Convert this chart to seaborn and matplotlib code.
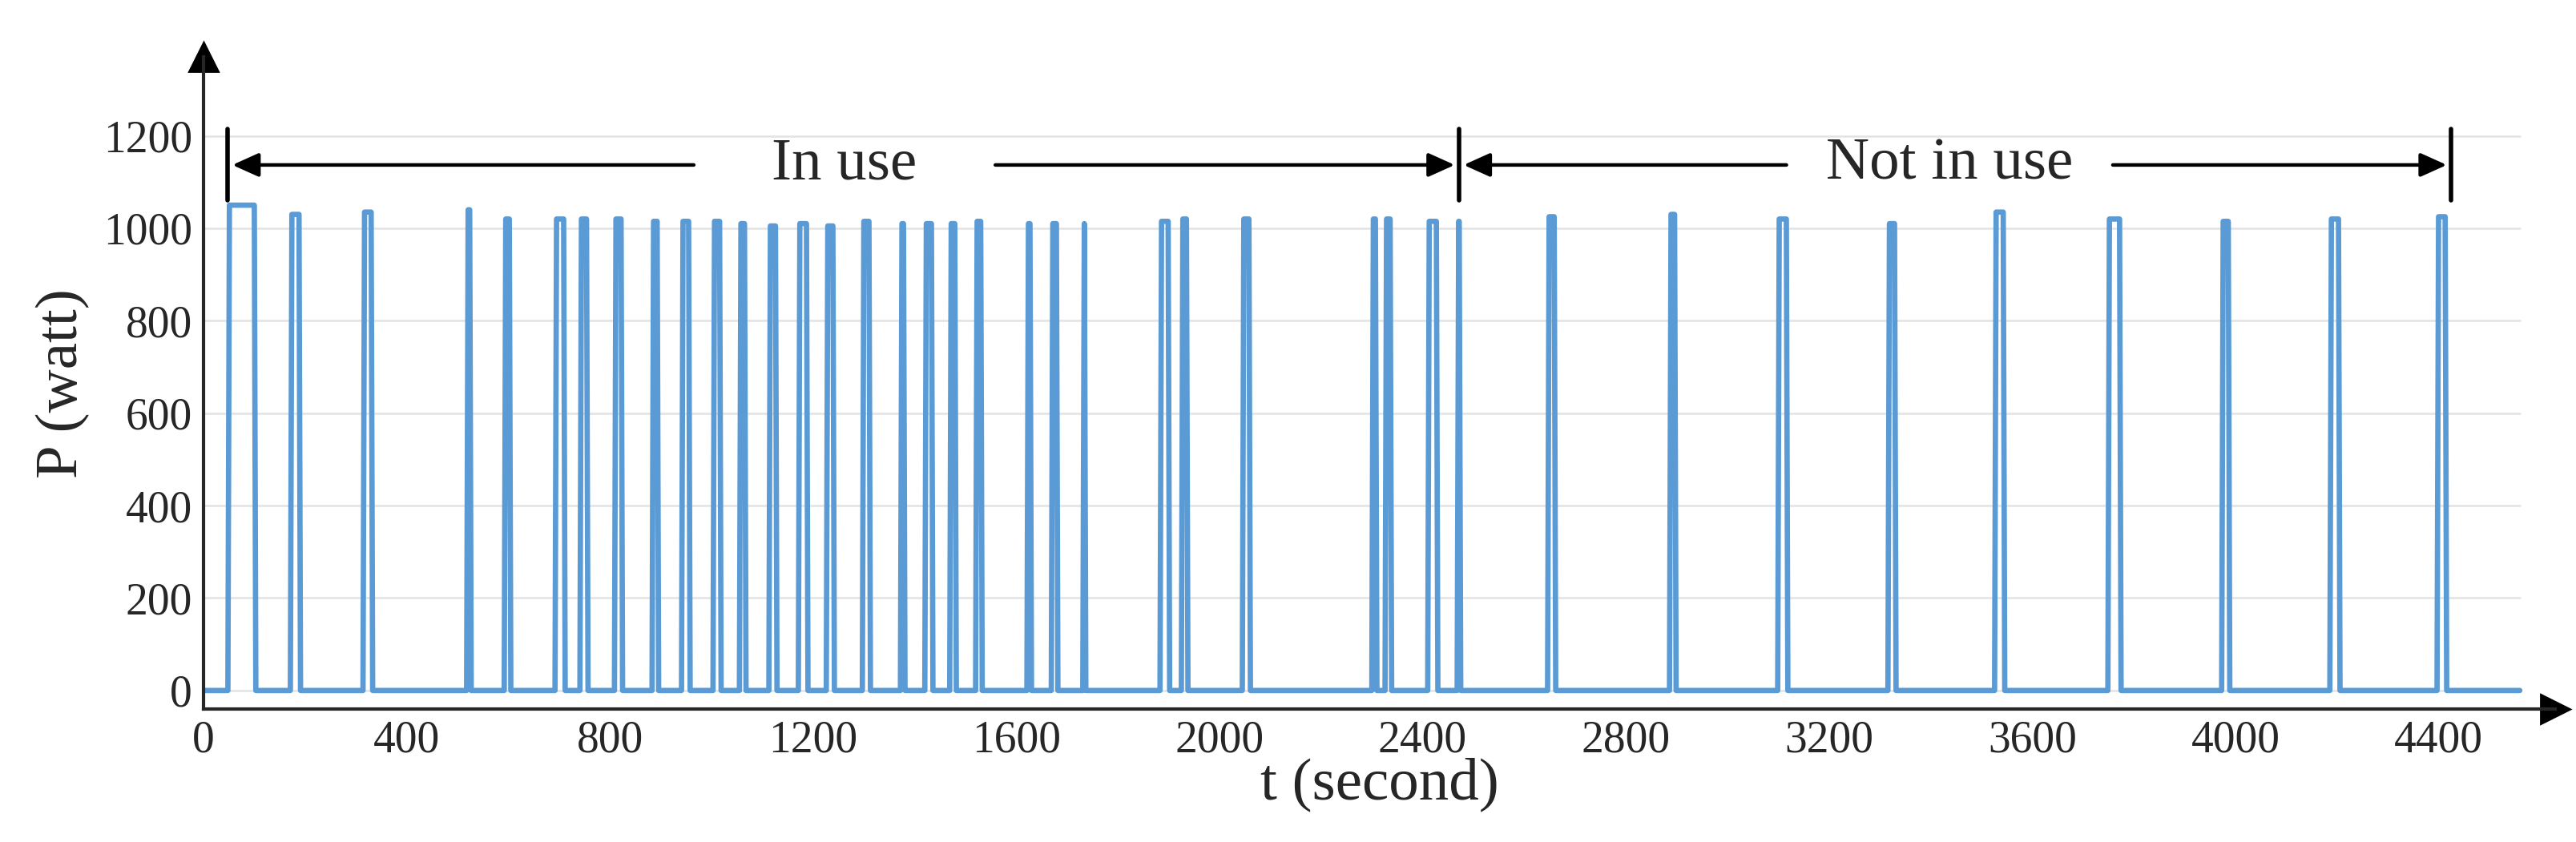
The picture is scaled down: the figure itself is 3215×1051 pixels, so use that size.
import matplotlib
matplotlib.use("Agg")
import numpy as np
import pandas as pd
import matplotlib.pyplot as plt
import seaborn as sns

# pulses: start / end time (s) and power level (W)
starts = [48, 171, 314, 518, 592, 692, 741, 809, 883, 941, 1003, 1055, 1113, 1171,
          1226, 1297, 1372, 1420, 1469, 1520, 1621, 1669, 1731, 1883, 1925, 2045,
          2300, 2326, 2410, 2468, 2646, 2886, 3099, 3316, 3526, 3749, 3973, 4186, 4397]
ends = [103, 191, 333, 527, 605, 712, 757, 825, 896, 958, 1019, 1068, 1129, 1190,
        1242, 1313, 1381, 1436, 1482, 1533, 1630, 1682, 1737, 1902, 1938, 2061,
        2310, 2339, 2430, 2475, 2662, 2899, 3119, 3332, 3546, 3775, 3989, 4206, 4416]
levels = [1050, 1030, 1035, 1040, 1020, 1020, 1020, 1020, 1015, 1015, 1015, 1010, 1005, 1010,
          1005, 1015, 1010, 1010, 1010, 1015, 1010, 1010, 1010, 1015, 1020, 1020,
          1020, 1020, 1015, 1015, 1025, 1030, 1020, 1010, 1035, 1020, 1015, 1020, 1025]
t_end = 4560

t = [0]
p = [0]
for s, e, lv in zip(starts, ends, levels):
    t += [s, s + 3, e - 3, e]
    p += [0, lv, lv, 0]
t.append(t_end)
p.append(0)
df = pd.DataFrame({"t": t, "P": p})

sns.set_style("white")
plt.rcParams["font.family"] = ["Liberation Serif", "DejaVu Serif"]

fig = plt.figure(figsize=(16.075, 5.255), dpi=200)
ax = fig.add_axes([0.079, 0.158, 0.913, 0.774])
sns.lineplot(data=df, x="t", y="P", sort=False, color="#5B9BD5", linewidth=2.4, ax=ax)

ax.set_xlim(0, 4630)
ax.set_ylim(-40, 1370)
ax.set_xticks(range(0, 4401, 400))
ax.set_yticks(range(0, 1201, 200))
for y in range(0, 1201, 200):
    ax.plot([0, t_end], [y, y], color="#e3e3e3", linewidth=0.9, zorder=0)
ax.tick_params(axis="both", labelsize=20, length=0, pad=5)
ax.set_xlabel("t (second)", fontsize=27, labelpad=-2)
ax.set_ylabel("P (watt)", fontsize=27, labelpad=6)

for side in ["top", "right"]:
    ax.spines[side].set_visible(False)
ax.spines["left"].set_linewidth(1.5)
ax.spines["bottom"].set_linewidth(1.5)
ax.plot(1, 0, ">k", markersize=13, transform=ax.transAxes, clip_on=False)
ax.plot(0, 1, "^k", markersize=13, transform=ax.transAxes, clip_on=False)

# annotation arrows
ya = 1137
for xb in [48, 2472, 4425]:
    ax.plot([xb, xb], [1060, 1215], color="black", linewidth=2)
arrow = dict(arrowstyle="-|>,head_length=1.0,head_width=0.45", color="black", lw=1.6)
ax.annotate("", xy=(48, ya), xytext=(974, ya), arrowprops=arrow)
ax.annotate("", xy=(2472, ya), xytext=(1550, ya), arrowprops=arrow)
ax.annotate("", xy=(2472, ya), xytext=(3125, ya), arrowprops=arrow)
ax.annotate("", xy=(4425, ya), xytext=(3750, ya), arrowprops=arrow)
ax.text(1262, ya, "In use", fontsize=27, ha="center", va="center")
ax.text(3437, ya, "Not in use", fontsize=27, ha="center", va="center")

plt.savefig("out.png", dpi=200)
